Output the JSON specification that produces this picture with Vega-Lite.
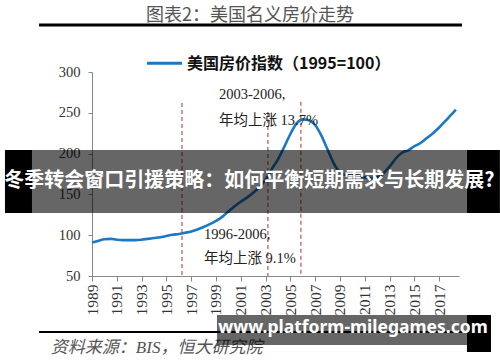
{
  "$schema": "https://vega.github.io/schema/vega-lite/v6.json",
  "width": 367,
  "height": 204,
  "autosize": {"type": "none"},
  "padding": {"left": 92, "top": 72, "right": 41, "bottom": 86},
  "background": "white",
  "config": {"view": {"stroke": null}},
  "resolve": {"axis": {"x": "independent", "y": "independent"}},
  "datasets": {
    "series": [
      {"year": 1989.0, "index": 91}, {"year": 1989.5, "index": 93}, {"year": 1990.0, "index": 95},
      {"year": 1990.5, "index": 95.5}, {"year": 1991.0, "index": 94.5}, {"year": 1991.5, "index": 94},
      {"year": 1992.0, "index": 94}, {"year": 1992.5, "index": 94}, {"year": 1993.0, "index": 94.5},
      {"year": 1993.5, "index": 95.5}, {"year": 1994.0, "index": 96.5}, {"year": 1994.5, "index": 97.5},
      {"year": 1995.0, "index": 99}, {"year": 1995.5, "index": 100.5}, {"year": 1996.0, "index": 101.5},
      {"year": 1996.5, "index": 103}, {"year": 1997.0, "index": 104.5}, {"year": 1997.5, "index": 107},
      {"year": 1998.0, "index": 110}, {"year": 1998.5, "index": 113.5}, {"year": 1999.0, "index": 117.5},
      {"year": 1999.5, "index": 122.5}, {"year": 2000.0, "index": 129}, {"year": 2000.5, "index": 135.5},
      {"year": 2001.0, "index": 141}, {"year": 2001.5, "index": 146}, {"year": 2002.0, "index": 152},
      {"year": 2002.5, "index": 159}, {"year": 2003.0, "index": 168}, {"year": 2003.5, "index": 181},
      {"year": 2004.0, "index": 193}, {"year": 2004.5, "index": 208}, {"year": 2005.0, "index": 224},
      {"year": 2005.5, "index": 237}, {"year": 2006.0, "index": 242}, {"year": 2006.5, "index": 241},
      {"year": 2007.0, "index": 235}, {"year": 2007.5, "index": 222}, {"year": 2008.0, "index": 205},
      {"year": 2008.5, "index": 188}, {"year": 2009.0, "index": 177}, {"year": 2009.5, "index": 174},
      {"year": 2010.0, "index": 175}, {"year": 2010.5, "index": 173}, {"year": 2011.0, "index": 171},
      {"year": 2011.5, "index": 170}, {"year": 2012.0, "index": 171}, {"year": 2012.5, "index": 176},
      {"year": 2013.0, "index": 184}, {"year": 2013.5, "index": 194}, {"year": 2014.0, "index": 201},
      {"year": 2014.5, "index": 204}, {"year": 2015.0, "index": 209}, {"year": 2015.5, "index": 213},
      {"year": 2016.0, "index": 219}, {"year": 2016.5, "index": 225}, {"year": 2017.0, "index": 232},
      {"year": 2017.5, "index": 240}, {"year": 2018.0, "index": 248}, {"year": 2018.35, "index": 254}
    ],
    "vlines": [
      {"x": 1996.26, "top": 262, "bottom": 50},
      {"x": 2003.19, "top": 251, "bottom": 50},
      {"x": 2005.85, "top": 263.5, "bottom": 50}
    ],
    "notes": [
      {"x": 1999.24, "y": 271.8, "text": "2003-2006,"},
      {"x": 1999.24, "y": 240.3, "text": "年均上涨 13.7%"},
      {"x": 1998.03, "y": 100.3, "text": "1996-2006,"},
      {"x": 1998.03, "y": 70.5, "text": "年均上涨 9.1%"}
    ],
    "title": [{"x": 2001.74, "y": 368.5, "text": "图表2：美国名义房价走势"}],
    "titleRule": [{"x": 1984.73, "x2": 2018.84, "y": 357.6}],
    "bottomRule": [{"x": 1984.73, "x2": 2018.84, "y": -18.6}],
    "legendLine": [{"x": 1993.44, "x2": 1996.26, "y": 310.6}],
    "legendText": [{"x": 1996.66, "y": 310.2, "text": "美国房价指数（1995=100）"}],
    "source": [{"x": 1985.68, "y": -38.6, "text": "资料来源：BIS，恒大研究院"}],
    "shade": [
      {"x": 1984.16, "x2": 2019.24, "y": 204.4, "y2": 127.2},
      {"x": 1999.08, "x2": 2019.24, "y": 2.2, "y2": -34.6}
    ],
    "blocks": [
      {"x": 1981.98, "x2": 1984.16, "y": 204.4, "y2": 127.2},
      {"x": 2019.24, "x2": 2021.9, "y": 204.4, "y2": 127.2},
      {"x": 2019.24, "x2": 2021.18, "y": 2.2, "y2": -43.1}
    ],
    "banner": [{"x": 2001.7, "y": 166.8, "text": "冬季转会窗口引援策略：如何平衡短期需求与长期发展?"}],
    "url": [{"x": 2010.05, "y": -13.7, "text": "www.platform-milegames.com"}]
  },
  "layer": [
    {
      "data": {"name": "series"},
      "mark": {"type": "line", "color": "#1b78c2", "strokeWidth": 2.6, "interpolate": "monotone"},
      "encoding": {
        "x": {
          "field": "year", "type": "quantitative",
          "scale": {"domain": [1989, 2018.6], "nice": false, "zero": false},
          "axis": {
            "title": null, "values": [1989, 1991, 1993, 1995, 1997, 1999, 2001, 2003, 2005, 2007, 2009, 2011, 2013, 2015, 2017],
            "format": "d", "labelAngle": -90, "grid": false,
            "labelFont": "Liberation Serif", "labelFontSize": 15.5, "labelColor": "#333",
            "domainColor": "#888", "tickColor": "#888", "tickSize": 5, "labelPadding": 3, "labelFlush": false, "labelOverlap": false, "labelBound": false
          }
        },
        "y": {
          "field": "index", "type": "quantitative",
          "scale": {"domain": [50, 300], "nice": false, "zero": false},
          "axis": {
            "title": null, "values": [50, 100, 150, 200, 250, 300], "grid": false,
            "labelFont": "Liberation Serif", "labelFontSize": 14.5, "labelColor": "#333",
            "domainColor": "#888", "tickColor": "#888", "tickSize": 4, "labelPadding": 8, "labelFlush": false
          }
        }
      }
    },
    {
      "data": {"name": "vlines"},
      "mark": {"type": "rule", "color": "#b03030", "strokeWidth": 1, "strokeDash": [4, 3]},
      "encoding": {
        "x": {"field": "x", "type": "quantitative", "axis": null},
        "y": {"field": "top", "type": "quantitative", "axis": null},
        "y2": {"field": "bottom"}
      }
    },
    {
      "data": {"name": "notes"},
      "mark": {"type": "text", "align": "left", "baseline": "middle", "font": "Liberation Serif, Noto Sans CJK SC", "fontSize": 14.5, "color": "#222"},
      "encoding": {
        "x": {"field": "x", "type": "quantitative", "axis": null},
        "y": {"field": "y", "type": "quantitative", "axis": null},
        "text": {"field": "text"}
      }
    },
    {
      "data": {"name": "title"},
      "mark": {"type": "text", "align": "center", "baseline": "middle", "font": "Noto Sans CJK SC", "fontSize": 18, "color": "#555"},
      "encoding": {
        "x": {"field": "x", "type": "quantitative", "axis": null},
        "y": {"field": "y", "type": "quantitative", "axis": null},
        "text": {"field": "text"}
      }
    },
    {
      "data": {"name": "titleRule"},
      "mark": {"type": "rule", "color": "#000", "strokeWidth": 3},
      "encoding": {
        "x": {"field": "x", "type": "quantitative", "axis": null},
        "x2": {"field": "x2"},
        "y": {"field": "y", "type": "quantitative", "axis": null}
      }
    },
    {
      "data": {"name": "bottomRule"},
      "mark": {"type": "rule", "color": "#000", "strokeWidth": 2},
      "encoding": {
        "x": {"field": "x", "type": "quantitative", "axis": null},
        "x2": {"field": "x2"},
        "y": {"field": "y", "type": "quantitative", "axis": null}
      }
    },
    {
      "data": {"name": "legendLine"},
      "mark": {"type": "rule", "color": "#1b78c2", "strokeWidth": 3},
      "encoding": {
        "x": {"field": "x", "type": "quantitative", "axis": null},
        "x2": {"field": "x2"},
        "y": {"field": "y", "type": "quantitative", "axis": null}
      }
    },
    {
      "data": {"name": "legendText"},
      "mark": {"type": "text", "align": "left", "baseline": "middle", "font": "Noto Sans CJK SC", "fontSize": 16, "fontWeight": "bold", "color": "#111"},
      "encoding": {
        "x": {"field": "x", "type": "quantitative", "axis": null},
        "y": {"field": "y", "type": "quantitative", "axis": null},
        "text": {"field": "text"}
      }
    },
    {
      "data": {"name": "source"},
      "mark": {"type": "text", "align": "left", "baseline": "middle", "font": "Liberation Serif, Noto Sans CJK SC", "fontSize": 17, "fontStyle": "italic", "color": "#555"},
      "encoding": {
        "x": {"field": "x", "type": "quantitative", "axis": null},
        "y": {"field": "y", "type": "quantitative", "axis": null},
        "text": {"field": "text"}
      }
    },
    {
      "data": {"name": "shade"},
      "mark": {"type": "rect", "color": "#000", "opacity": 0.6},
      "encoding": {
        "x": {"field": "x", "type": "quantitative", "axis": null},
        "x2": {"field": "x2"},
        "y": {"field": "y", "type": "quantitative", "axis": null},
        "y2": {"field": "y2"}
      }
    },
    {
      "data": {"name": "blocks"},
      "mark": {"type": "rect", "color": "#000", "opacity": 1},
      "encoding": {
        "x": {"field": "x", "type": "quantitative", "axis": null},
        "x2": {"field": "x2"},
        "y": {"field": "y", "type": "quantitative", "axis": null},
        "y2": {"field": "y2"}
      }
    },
    {
      "data": {"name": "banner"},
      "mark": {"type": "text", "align": "center", "baseline": "middle", "font": "Noto Sans CJK SC", "fontSize": 20, "fontWeight": "bold", "color": "#fff"},
      "encoding": {
        "x": {"field": "x", "type": "quantitative", "axis": null},
        "y": {"field": "y", "type": "quantitative", "axis": null},
        "text": {"field": "text"}
      }
    },
    {
      "data": {"name": "url"},
      "mark": {"type": "text", "align": "center", "baseline": "middle", "font": "Noto Sans", "fontSize": 17.5, "fontWeight": "bold", "color": "#fff"},
      "encoding": {
        "x": {"field": "x", "type": "quantitative", "axis": null},
        "y": {"field": "y", "type": "quantitative", "axis": null},
        "text": {"field": "text"}
      }
    }
  ]
}
